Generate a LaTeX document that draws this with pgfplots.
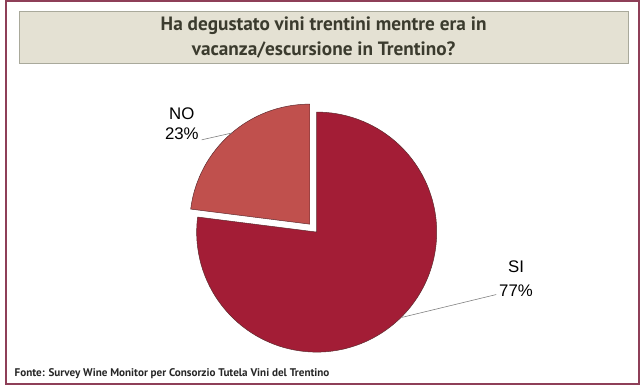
\documentclass[border=0pt]{standalone}
\usepackage{pgfplots}
\usepackage{pgfplotstable}
\pgfplotsset{compat=1.18}
\usepackage{fontspec}
\setmainfont{PT Sans}
\newfontfamily\labfont{Liberation Sans}
\definecolor{frame}{HTML}{8E3F58}
\definecolor{boxfill}{HTML}{E4E1D3}
\definecolor{boxline}{HTML}{A9A99B}
\definecolor{titlec}{HTML}{3B3B2E}
\definecolor{sic}{HTML}{A31D36}
\definecolor{noc}{HTML}{C0504D}
\definecolor{edgec}{HTML}{5E2A2E}
\pgfplotstableread{
label value
SI 77
NO 23
}\piedata
\begin{document}
\pgfplotstablegetelem{0}{value}\of\piedata\let\vSI\pgfplotsretval
\pgfplotstablegetelem{1}{value}\of\piedata\let\vNO\pgfplotsretval
\pgfmathsetmacro{\aNO}{90+3.6*\vNO}
\pgfmathsetmacro{\aEnd}{\aNO+3.6*\vSI}
\begin{tikzpicture}
\begin{axis}[
  width=640bp, height=388bp, scale only axis,
  xmin=0, xmax=640, ymin=0, ymax=388,
  hide axis, clip=false,
]
% outer frame
\draw[frame, line width=2bp] (axis cs:1,1) rectangle (axis cs:639,387);
% title box
\filldraw[fill=boxfill, draw=boxline, line width=1.2bp] (axis cs:14,376) rectangle (axis cs:628,324);
\node[align=center, text=titlec, font=\fontsize{19.5}{25}\selectfont\bfseries] at (axis cs:321,350) {Ha degustato vini trentini mentre era in\\vacanza/escursione in Trentino?};
% SI slice
\filldraw[fill=sic, draw=edgec, line width=0.5bp] (axis cs:314,154) -- ++(\aNO:121bp) arc[start angle=\aNO, end angle=\aEnd, radius=121bp] -- cycle;
% NO slice (exploded)
\filldraw[fill=noc, draw=edgec, line width=0.5bp] (axis cs:307,162) -- ++(90:121bp) arc[start angle=90, end angle=\aNO, radius=121bp] -- cycle;
% leader lines
\draw[gray, line width=0.6bp] (axis cs:198,247) -- (axis cs:229,254);
\draw[gray, line width=0.6bp] (axis cs:495,91) -- (axis cs:400,68);
% labels
\node[align=center, font=\labfont\fontsize{17}{20}\selectfont] at (axis cs:178,263) {NO\\\vNO\%};
\node[align=center, font=\labfont\fontsize{17}{25}\selectfont] at (axis cs:515,107) {SI\\\vSI\%};
% source
\node[anchor=west, text=black!85, font=\fontsize{11.25}{13}\selectfont\bfseries] at (axis cs:6,11) {Fonte: Survey Wine Monitor per Consorzio Tutela Vini del Trentino};
\end{axis}
\end{tikzpicture}
\end{document}
